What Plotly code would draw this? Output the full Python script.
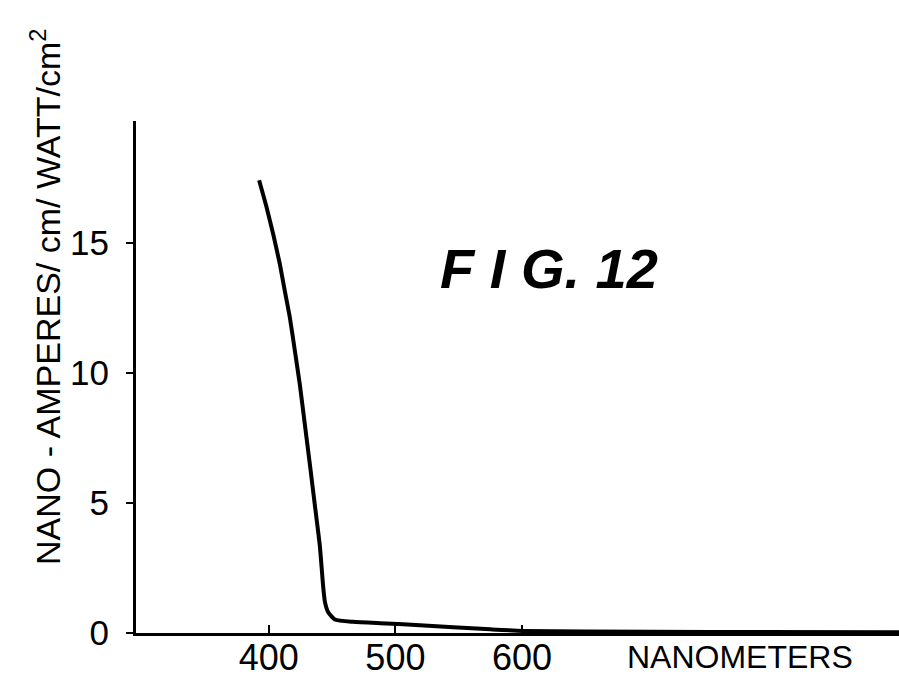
import plotly.graph_objects as go

# Data
wavelength_nm = [392.3, 398.2, 403.4, 408.7, 412.6, 416.6, 420.6, 424.5, 428.5, 432.5,
                 436.4, 440.3, 442.9, 444.3, 446.9, 452.2, 466.6, 493.0, 519.4, 545.7,
                 575.0, 600.8, 650.0, 750.0, 898.0]
current = [17.42, 16.38, 15.35, 14.19, 13.16, 12.13, 10.84, 9.55, 8.0, 6.45,
           4.90, 3.35, 1.80, 1.20, 0.80, 0.52, 0.43, 0.37, 0.30, 0.22,
           0.14, 0.08, 0.06, 0.04, 0.03]

x_ticks = [400, 500, 600]
x_tick_labels = ["400", "500", "600"]
y_ticks = [0, 5, 10, 15]
y_tick_labels = ["0", "5", "10", "15"]

FONT = "Liberation Sans, Arial, sans-serif"

fig = go.Figure()
fig.add_trace(go.Scatter(
    x=wavelength_nm, y=current, mode="lines",
    line=dict(color="black", width=4, shape="spline", smoothing=0.5),
    showlegend=False, hoverinfo="skip",
))

fig.update_layout(
    width=899, height=677,
    margin=dict(l=136, r=0, t=121, b=44, autoexpand=False),
    paper_bgcolor="white", plot_bgcolor="white",
    font=dict(family=FONT, color="black", size=30),
    xaxis=dict(
        range=[295, 898], showgrid=False, zeroline=False, automargin=False,
        showline=True, linecolor="black", linewidth=3,
        ticks="inside", ticklen=8, tickwidth=2, tickcolor="black",
        tickvals=x_ticks, ticktext=x_tick_labels,
        tickfont=dict(size=36, family=FONT), ticklabelstandoff=-9,
    ),
    yaxis=dict(
        range=[0, 19.7], showgrid=False, zeroline=False, automargin=False,
        showline=True, linecolor="black", linewidth=3,
        ticks="outside", ticklen=7, tickwidth=2, tickcolor="black",
        tickvals=y_ticks, ticktext=y_tick_labels,
        tickfont=dict(size=35, family=FONT), ticklabelstandoff=10,
    ),
    annotations=[
        dict(text="NANOMETERS", xref="paper", yref="paper",
             x=(740 - 136) / 763, y=0, yshift=-24, showarrow=False,
             xanchor="center", yanchor="middle",
             font=dict(size=32, family=FONT)),
        dict(text="NANO - AMPERES/ cm/ WATT/cm<sup>2</sup>", xref="paper", yref="paper",
             x=0, xshift=-136 + 45, y=(633 - 297) / 512, showarrow=False,
             textangle=-90, xanchor="center", yanchor="middle",
             font=dict(size=34, family=FONT)),
        dict(text="<b><i>F I G. 12</i></b>", xref="paper", yref="paper",
             x=(549 - 136) / 763, y=(633 - 268) / 512, showarrow=False,
             xanchor="center", yanchor="middle",
             font=dict(size=56, family=FONT)),
    ],
)

fig.write_html(
    "out.html",
    config={"displayModeBar": False},
    post_script="document.body.style.margin='0';document.body.style.overflow='hidden';",
)
